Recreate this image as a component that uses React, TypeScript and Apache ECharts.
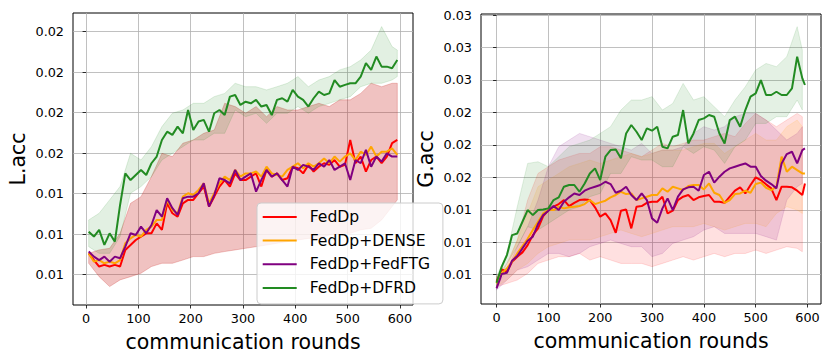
import React, { useEffect, useRef } from "react";
import * as echarts from "echarts";

// ---------- data ----------
const roundsL = [5,15,25,35,45,55,65,75,85,95,105,115,125,135,145,155,165,175,185,195,205,215,225,235,245,255,265,275,285,295,305,315,325,335,345,355,365,375,385,395,405,415,425,435,445,455,465,475,485,495,505,515,525,535,545,555,565,575,585,595];
const lFedDp = [0.01105,0.01072,0.01040,0.01048,0.01040,0.01048,0.01040,0.01122,0.01146,0.01171,0.01188,0.01204,0.01204,0.01253,0.01221,0.01352,0.01303,0.01286,0.01352,0.01369,0.01369,0.01402,0.01435,0.01336,0.01385,0.01435,0.01467,0.01435,0.01500,0.01467,0.01467,0.01484,0.01500,0.01435,0.01517,0.01484,0.01500,0.01467,0.01476,0.01533,0.01525,0.01500,0.01542,0.01509,0.01533,0.01550,0.01542,0.01566,0.01533,0.01542,0.01665,0.01550,0.01583,0.01509,0.01566,0.01583,0.01550,0.01583,0.01649,0.01665];
const lDense = [0.01105,0.01064,0.01072,0.01056,0.01064,0.01056,0.01072,0.01155,0.01179,0.01196,0.01188,0.01221,0.01237,0.01270,0.01270,0.01369,0.01319,0.01303,0.01385,0.01402,0.01393,0.01418,0.01451,0.01352,0.01402,0.01451,0.01484,0.01467,0.01517,0.01484,0.01500,0.01500,0.01509,0.01484,0.01533,0.01500,0.01492,0.01484,0.01517,0.01533,0.01550,0.01525,0.01550,0.01533,0.01550,0.01574,0.01550,0.01583,0.01558,0.01583,0.01599,0.01566,0.01607,0.01591,0.01632,0.01583,0.01607,0.01607,0.01624,0.01591];
const lFedFTG = [0.01114,0.01089,0.01072,0.01089,0.01064,0.01089,0.01081,0.01138,0.01204,0.01196,0.01237,0.01204,0.01245,0.01319,0.01286,0.01377,0.01328,0.01295,0.01377,0.01385,0.01385,0.01402,0.01451,0.01336,0.01393,0.01476,0.01467,0.01451,0.01517,0.01467,0.01484,0.01500,0.01410,0.01467,0.01517,0.01484,0.01500,0.01467,0.01435,0.01533,0.01517,0.01542,0.01533,0.01517,0.01550,0.01533,0.01566,0.01517,0.01533,0.01550,0.01467,0.01566,0.01550,0.01616,0.01533,0.01583,0.01558,0.01599,0.01583,0.01583];
const lDFRD = [0.01212,0.01188,0.01221,0.01147,0.01204,0.01163,0.01344,0.01500,0.01467,0.01492,0.01517,0.01492,0.01550,0.01583,0.01665,0.01706,0.01690,0.01731,0.01698,0.01813,0.01714,0.01756,0.01764,0.01706,0.01797,0.01813,0.01788,0.01879,0.01887,0.01838,0.01854,0.01846,0.01863,0.01830,0.01838,0.01788,0.01863,0.01871,0.01854,0.01912,0.01879,0.01863,0.01830,0.01871,0.01904,0.01887,0.01895,0.01961,0.01928,0.01937,0.01945,0.01945,0.01978,0.02044,0.02011,0.02077,0.02027,0.02027,0.02019,0.02060];

const bandRoundsL = [5,25,45,65,85,105,125,145,165,185,205,225,245,265,285,305,325,345,365,385,405,425,445,465,485,505,525,545,565,585,595];
const lBaseHi = [0.01105,0.01122,0.01130,0.01204,0.01352,0.01385,0.01484,0.01599,0.01583,0.01649,0.01665,0.01698,0.01714,0.01846,0.01830,0.01797,0.01830,0.01780,0.01830,0.01813,0.01813,0.01830,0.01846,0.01830,0.01863,0.01863,0.01895,0.01945,0.01928,0.01945,0.01945];
const lBaseLo = [0.01056,0.00990,0.00941,0.00974,0.00990,0.01007,0.01040,0.01056,0.01056,0.01072,0.01089,0.01089,0.01105,0.01114,0.01122,0.01130,0.01138,0.01146,0.01155,0.01163,0.01171,0.01179,0.01179,0.01196,0.01204,0.01204,0.01221,0.01229,0.01270,0.01336,0.01369];
const lDFRDHi = [0.01270,0.01303,0.01369,0.01435,0.01599,0.01566,0.01632,0.01731,0.01797,0.01813,0.01846,0.01846,0.01879,0.01895,0.01945,0.01928,0.01928,0.01912,0.01928,0.01945,0.01978,0.01928,0.01961,0.01978,0.02011,0.02027,0.02060,0.02109,0.02225,0.02126,0.02109];
const lDFRDLo = [0.01138,0.01105,0.01105,0.01188,0.01402,0.01435,0.01484,0.01566,0.01599,0.01632,0.01665,0.01665,0.01698,0.01698,0.01813,0.01780,0.01797,0.01747,0.01797,0.01797,0.01830,0.01797,0.01830,0.01846,0.01863,0.01879,0.01928,0.01945,0.01945,0.01961,0.01978];

const roundsR = [0,10,20,30,40,50,60,70,80,90,100,110,120,130,140,150,160,170,180,190,200,210,220,230,240,250,260,270,280,290,300,310,320,330,340,350,360,370,380,390,400,410,420,430,440,450,460,470,480,490,500,510,520,530,540,550,560,570,580,590,595];
const rFedDp = [0.00946,0.01041,0.01023,0.01100,0.01139,0.01172,0.01228,0.01305,0.01357,0.01452,0.01498,0.01524,0.01544,0.01575,0.01529,0.01554,0.01575,0.01580,0.01575,0.01519,0.01447,0.01472,0.01421,0.01323,0.01493,0.01503,0.01357,0.01524,0.01529,0.01554,0.01562,0.01562,0.01601,0.01472,0.01493,0.01575,0.01601,0.01614,0.01575,0.01596,0.01606,0.01614,0.01562,0.01562,0.01554,0.01601,0.01647,0.01673,0.01626,0.01691,0.01750,0.01729,0.01696,0.01665,0.01575,0.01678,0.01678,0.01673,0.01647,0.01614,0.01703];
const rDense = [0.00933,0.01010,0.01049,0.01100,0.01164,0.01221,0.01277,0.01344,0.01408,0.01472,0.01498,0.01498,0.01524,0.01511,0.01519,0.01524,0.01529,0.01544,0.01575,0.01544,0.01557,0.01570,0.01596,0.01614,0.01639,0.01621,0.01626,0.01575,0.01588,0.01601,0.01614,0.01614,0.01665,0.01639,0.01678,0.01665,0.01652,0.01683,0.01691,0.01691,0.01657,0.01703,0.01631,0.01614,0.01554,0.01575,0.01621,0.01626,0.01647,0.01631,0.01698,0.01709,0.01670,0.01652,0.01678,0.01909,0.01793,0.01832,0.01806,0.01780,0.01780];
const rFedFTG = [0.00895,0.01005,0.01015,0.01108,0.01144,0.01203,0.01262,0.01293,0.01390,0.01459,0.01493,0.01529,0.01498,0.01562,0.01596,0.01626,0.01614,0.01647,0.01665,0.01678,0.01691,0.01716,0.01698,0.01631,0.01647,0.01678,0.01614,0.01575,0.01626,0.01575,0.01434,0.01400,0.01511,0.01588,0.01498,0.01601,0.01657,0.01673,0.01678,0.01647,0.01768,0.01793,0.01709,0.01755,0.01793,0.01819,0.01832,0.01845,0.01857,0.01832,0.01832,0.01760,0.01724,0.01698,0.01665,0.01857,0.01929,0.01947,0.01857,0.01960,0.01973];
const rDFRD = [0.00938,0.01062,0.01151,0.01305,0.01318,0.01408,0.01498,0.01459,0.01498,0.01503,0.01511,0.01575,0.01596,0.01678,0.01691,0.01691,0.01639,0.01703,0.01780,0.01819,0.01729,0.01909,0.01960,0.01965,0.01896,0.02088,0.02153,0.02101,0.02037,0.02127,0.02109,0.02140,0.01986,0.01973,0.02063,0.02076,0.02268,0.02011,0.02088,0.02191,0.02204,0.02230,0.02217,0.02088,0.02011,0.02191,0.02217,0.02140,0.02268,0.02371,0.02396,0.02499,0.02384,0.02384,0.02409,0.02384,0.02384,0.02435,0.02679,0.02512,0.02461];

const bandRoundsR = [0,20,40,60,80,100,120,140,160,180,200,220,240,260,280,300,320,340,360,380,400,420,440,460,480,500,520,540,560,580,590];
const rFedDpHi = [0.00985,0.01087,0.01267,0.01575,0.01780,0.01832,0.01883,0.01909,0.01934,0.01934,0.01986,0.01986,0.01960,0.01934,0.01909,0.01960,0.02011,0.01986,0.02011,0.02037,0.02037,0.02063,0.02088,0.02063,0.02165,0.02242,0.02191,0.02140,0.02191,0.02242,0.02217];
const rFedDpLo = [0.00908,0.00933,0.00959,0.01010,0.01087,0.01113,0.01139,0.01139,0.01164,0.01113,0.01139,0.01113,0.01087,0.01087,0.01087,0.01062,0.01087,0.01113,0.01139,0.01113,0.01139,0.01164,0.01139,0.01164,0.01164,0.01190,0.01164,0.01190,0.01216,0.01203,0.01177];
const rDenseHi = [0.00959,0.01062,0.01267,0.01472,0.01678,0.01729,0.01780,0.01832,0.01857,0.01883,0.01857,0.01883,0.01909,0.01934,0.01909,0.01934,0.01960,0.01960,0.01960,0.01986,0.02011,0.02011,0.01934,0.01986,0.02037,0.02088,0.02037,0.02037,0.02140,0.02191,0.02140];
const rDenseLo = [0.00908,0.00959,0.01036,0.01087,0.01164,0.01216,0.01241,0.01267,0.01267,0.01267,0.01293,0.01318,0.01344,0.01318,0.01293,0.01318,0.01344,0.01370,0.01370,0.01370,0.01395,0.01370,0.01344,0.01370,0.01395,0.01395,0.01370,0.01472,0.01524,0.01498,0.01472];
const rFedFTGHi = [0.00908,0.01036,0.01216,0.01370,0.01575,0.01832,0.01986,0.02037,0.02088,0.02063,0.02037,0.02011,0.01986,0.01960,0.02011,0.01934,0.01960,0.01960,0.01986,0.02088,0.02140,0.02114,0.02140,0.02217,0.02242,0.02242,0.02191,0.02114,0.02037,0.02088,0.02140];
const rFedFTGLo = [0.00882,0.00959,0.01036,0.01062,0.01113,0.01164,0.01164,0.01139,0.01164,0.01216,0.01241,0.01267,0.01241,0.01216,0.01216,0.01139,0.01164,0.01241,0.01267,0.01293,0.01344,0.01370,0.01318,0.01318,0.01318,0.01318,0.01293,0.01267,0.01575,0.01678,0.01703];
const rDFRDHi = [0.00985,0.01164,0.01524,0.01857,0.01870,0.01832,0.01909,0.01986,0.02011,0.02037,0.02088,0.02140,0.02268,0.02345,0.02345,0.02371,0.02268,0.02319,0.02473,0.02345,0.02371,0.02294,0.02217,0.02345,0.02448,0.02576,0.02627,0.02602,0.02679,0.02910,0.02730];
const rDFRDLo = [0.00908,0.01087,0.01216,0.01370,0.01344,0.01395,0.01447,0.01498,0.01524,0.01601,0.01626,0.01780,0.01780,0.01909,0.01883,0.01883,0.01832,0.01832,0.01986,0.01934,0.01986,0.01960,0.01857,0.01986,0.02037,0.02165,0.02165,0.02217,0.02217,0.02345,0.02268];

const seriesNames = ["FedDp", "FedDp+DENSE", "FedDp+FedFTG", "FedDp+DFRD"];
const xTicks = [0, 100, 200, 300, 400, 500, 600];
const xTickLabels = ["0", "100", "200", "300", "400", "500", "600"];
const yTicksL = [0.010, 0.012, 0.014, 0.016, 0.018, 0.020, 0.022];
const yTickLabelsL = ["0.01", "0.01", "0.01", "0.02", "0.02", "0.02", "0.02"];
const yTicksR = [0.01, 0.0125, 0.015, 0.0175, 0.02, 0.0225, 0.025, 0.0275, 0.03];
const yTickLabelsR = ["0.01", "0.01", "0.01", "0.02", "0.02", "0.02", "0.03", "0.03", "0.03"];

// ---------- styling ----------
const FONT = "DejaVu Sans";
const COLORS = ["#ff0000", "#ffa500", "#800080", "#228b22"];

const zip = (xs: number[], ys: number[]) => xs.map((x, i) => [x, ys[i]]);

function labelFor(ticks: number[], labels: string[]) {
  return (v: number) => {
    let best = 0;
    for (let i = 1; i < ticks.length; i++) {
      if (Math.abs(ticks[i] - v) < Math.abs(ticks[best] - v)) best = i;
    }
    return labels[best];
  };
}

function band(idx: number, xs: number[], lo: number[], hi: number[], fill: string, stroke: string) {
  return {
    type: "custom",
    xAxisIndex: idx,
    yAxisIndex: idx,
    silent: true,
    z: 1,
    clip: true,
    data: [[xs[0], lo[0]]],
    encode: { x: 0, y: 1 },
    renderItem: (_p: any, api: any) => {
      const pts: number[][] = [];
      for (let i = 0; i < xs.length; i++) pts.push(api.coord([xs[i], hi[i]]));
      for (let i = xs.length - 1; i >= 0; i--) pts.push(api.coord([xs[i], lo[i]]));
      return {
        type: "polygon",
        shape: { points: pts },
        style: { fill, stroke, lineWidth: 0.8 },
      };
    },
  };
}

function line(idx: number, name: string, xs: number[], ys: number[], color: string) {
  return {
    type: "line",
    name,
    xAxisIndex: idx,
    yAxisIndex: idx,
    data: zip(xs, ys),
    symbol: "none",
    showSymbol: false,
    z: 3,
    lineStyle: { color, width: 2 },
    itemStyle: { color },
  };
}

function xAxis(idx: number, min: number, max: number) {
  return {
    type: "value",
    gridIndex: idx,
    min,
    max,
    axisLine: { show: false },
    axisTick: { show: true, length: 3.5, customValues: xTicks, lineStyle: { color: "#000", width: 0.8 } },
    axisLabel: {
      customValues: xTicks,
      formatter: labelFor(xTicks, xTickLabels),
      fontSize: 12.8,
      fontFamily: FONT,
      color: "#000",
      margin: 7,
    },
    splitLine: { show: true, lineStyle: { color: "#b0b0b0", width: 0.8 } },
    name: "communication rounds",
    nameLocation: "middle",
    nameGap: 26,
    nameTextStyle: { fontSize: 20.5, fontFamily: FONT, color: "#000" },
  };
}

function yAxis(idx: number, min: number, max: number, ticks: number[], labels: string[], name: string) {
  return {
    type: "value",
    gridIndex: idx,
    min,
    max,
    axisLine: { show: false },
    axisTick: { show: true, length: 3.5, customValues: ticks, lineStyle: { color: "#000", width: 0.8 } },
    axisLabel: {
      customValues: ticks,
      formatter: labelFor(ticks, labels),
      fontSize: 12.8,
      fontFamily: FONT,
      color: "#000",
      margin: 9,
    },
    splitLine: { show: true, lineStyle: { color: "#b0b0b0", width: 0.8 } },
    name,
    nameLocation: "middle",
    nameGap: 45,
    nameTextStyle: { fontSize: 20.5, fontFamily: FONT, color: "#000" },
  };
}

export default function App() {
  const ref = useRef<HTMLDivElement>(null);
  useEffect(() => {
    document.body.style.margin = "0";
    if (!ref.current) return;
    const chart = echarts.init(ref.current, null, { renderer: "svg" });
    const option: any = {
      animation: false,
      backgroundColor: "#fff",
      textStyle: { fontFamily: FONT },
      grid: [
        { left: 73, top: 13, width: 340, height: 292, show: true, borderColor: "#000", borderWidth: 1, backgroundColor: "transparent" },
        { left: 481, top: 14, width: 340, height: 290, show: true, borderColor: "#000", borderWidth: 1, backgroundColor: "transparent" },
      ],
      xAxis: [xAxis(0, -25, 625), xAxis(1, -30, 626)],
      yAxis: [
        yAxis(0, 0.0085, 0.02292, yTicksL, yTickLabelsL, "L.acc"),
        yAxis(1, 0.007746, 0.030077, yTicksR, yTickLabelsR, "G.acc"),
      ],
      legend: {
        data: seriesNames,
        orient: "vertical",
        left: 257,
        top: 203,
        icon: "path://M0,6L34,6L34,8L0,8Z M42,0L42,14",
        itemWidth: 42,
        itemHeight: 14,
        itemGap: 7.7,
        padding: [5.9, 12.7, 7.9, 5.7],
        backgroundColor: "rgba(255,255,255,0.8)",
        borderColor: "#cccccc",
        borderWidth: 1,
        borderRadius: 4,
        itemStyle: { borderWidth: 0 },
        textStyle: { fontSize: 15.6, fontFamily: FONT, color: "#000" },
        selectedMode: false,
        z: 10,
      },
      series: [
        band(0, bandRoundsL, lBaseLo, lBaseHi, "rgba(200,30,25,0.27)", "rgba(200,30,25,0.3)"),
        band(0, bandRoundsL, lDFRDLo, lDFRDHi, "rgba(34,139,34,0.13)", "rgba(34,139,34,0.18)"),
        band(1, bandRoundsR, rFedDpLo, rFedDpHi, "rgba(255,0,0,0.12)", "rgba(255,0,0,0.16)"),
        band(1, bandRoundsR, rDenseLo, rDenseHi, "rgba(255,165,0,0.12)", "rgba(255,165,0,0.16)"),
        band(1, bandRoundsR, rFedFTGLo, rFedFTGHi, "rgba(128,0,128,0.12)", "rgba(128,0,128,0.16)"),
        band(1, bandRoundsR, rDFRDLo, rDFRDHi, "rgba(34,139,34,0.12)", "rgba(34,139,34,0.16)"),
        line(0, seriesNames[0], roundsL, lFedDp, COLORS[0]),
        line(0, seriesNames[1], roundsL, lDense, COLORS[1]),
        line(0, seriesNames[2], roundsL, lFedFTG, COLORS[2]),
        line(0, seriesNames[3], roundsL, lDFRD, COLORS[3]),
        line(1, seriesNames[0], roundsR, rFedDp, COLORS[0]),
        line(1, seriesNames[1], roundsR, rDense, COLORS[1]),
        line(1, seriesNames[2], roundsR, rFedFTG, COLORS[2]),
        line(1, seriesNames[3], roundsR, rDFRD, COLORS[3]),
      ],
    };
    chart.setOption(option);
    return () => chart.dispose();
  }, []);
  return <div ref={ref} style={{ width: 831, height: 362 }} />;
}
